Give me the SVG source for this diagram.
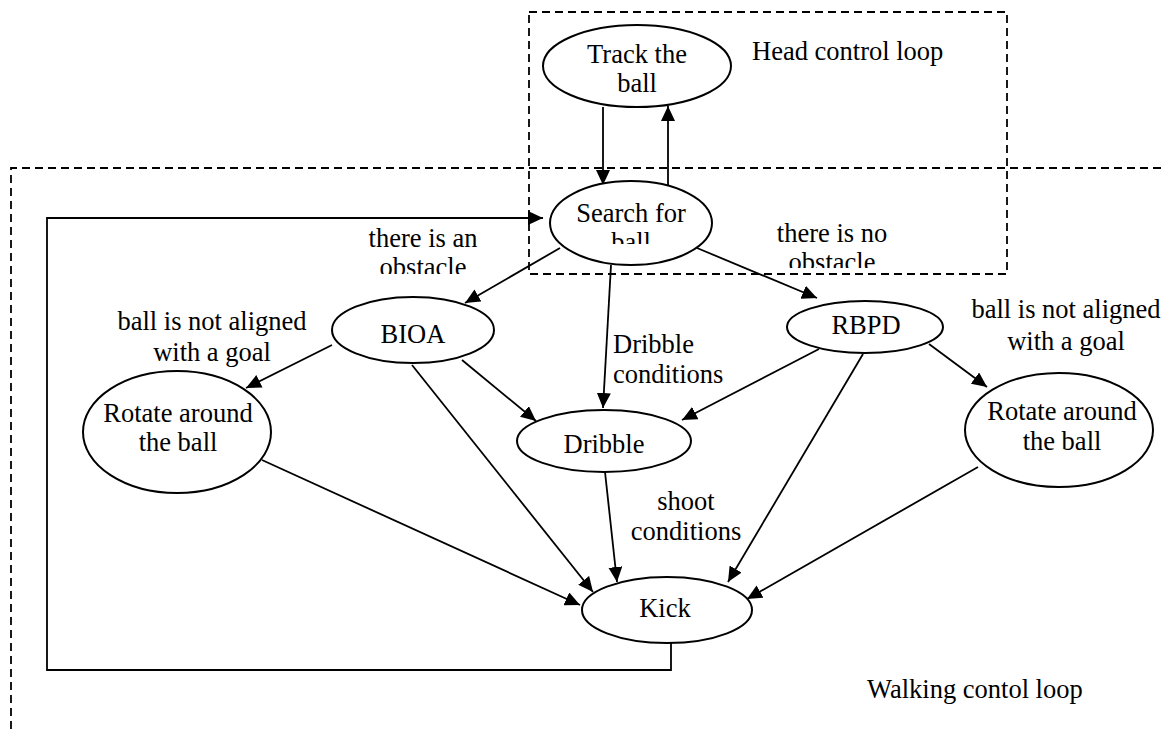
<svg xmlns="http://www.w3.org/2000/svg" width="1166" height="729" viewBox="0 0 1166 729">
<style>
text{font-family:"Liberation Serif","Times New Roman",serif;font-size:26.5px;fill:#000}
.c{text-anchor:middle}
.n{fill:#fff;stroke:#000;stroke-width:2}
.e{fill:none;stroke:#000;stroke-width:1.8}
.d{fill:none;stroke:#000;stroke-width:1.8;stroke-dasharray:8 5}
</style>
<defs>
<marker id="ah" markerUnits="userSpaceOnUse" markerWidth="16" markerHeight="14" refX="15" refY="7" orient="auto">
<path d="M0,0 L15,7 L0,14 z" fill="#000"/>
</marker>
<clipPath id="cs"><rect x="540" y="190" width="180" height="54"/></clipPath>
<clipPath id="ca"><rect x="340" y="220" width="180" height="54"/></clipPath>
<clipPath id="cn"><rect x="750" y="215" width="180" height="53"/></clipPath>
</defs>
<g id="loops">
<rect class="d" x="529" y="12" width="478" height="262"/>
<path class="d" d="M11,729 V168 H1166"/>
<text x="752" y="60">Head control loop</text>
<text x="867" y="698">Walking contol loop</text>
</g>
<g id="connectors">
<line class="e" x1="603" y1="107" x2="603" y2="185" marker-end="url(#ah)"/>
<line class="e" x1="668" y1="185" x2="668" y2="106" marker-end="url(#ah)"/>
<polyline class="e" points="671,643 671,670 47,670 47,218 543,218" marker-end="url(#ah)"/>
<line class="e" x1="560" y1="248" x2="465" y2="303" marker-end="url(#ah)"/>
<line class="e" x1="611" y1="265" x2="603" y2="408" marker-end="url(#ah)"/>
<line class="e" x1="697" y1="248" x2="817" y2="298" marker-end="url(#ah)"/>
<line class="e" x1="332" y1="345" x2="246" y2="388" marker-end="url(#ah)"/>
<line class="e" x1="462" y1="360" x2="536" y2="421" marker-end="url(#ah)"/>
<line class="e" x1="412" y1="365" x2="593" y2="592" marker-end="url(#ah)"/>
<line class="e" x1="262" y1="460" x2="580" y2="605" marker-end="url(#ah)"/>
<line class="e" x1="819" y1="349" x2="682" y2="420" marker-end="url(#ah)"/>
<line class="e" x1="863" y1="354" x2="728" y2="582" marker-end="url(#ah)"/>
<line class="e" x1="929" y1="344" x2="987" y2="387" marker-end="url(#ah)"/>
<line class="e" x1="978" y1="467" x2="747" y2="599" marker-end="url(#ah)"/>
<line class="e" x1="605" y1="472" x2="617" y2="582" marker-end="url(#ah)"/>
<g clip-path="url(#ca)"><text class="c" x="423" y="247">there is an</text><text class="c" x="423" y="276">obstacle</text></g>
<g clip-path="url(#cn)"><text class="c" x="832" y="242">there is no</text><text class="c" x="832" y="271">obstacle</text></g>
<text class="c" x="212" y="330">ball is not aligned</text>
<text class="c" x="212" y="361">with a goal</text>
<text class="c" x="1066" y="318">ball is not aligned</text>
<text class="c" x="1066" y="350">with a goal</text>
<text x="613" y="353">Dribble</text>
<text x="613" y="383">conditions</text>
<text class="c" x="686" y="510">shoot</text>
<text class="c" x="686" y="540">conditions</text>
</g>
<g id="track">
<ellipse class="n" cx="637" cy="66" rx="94" ry="41"/>
<text class="c" x="637" y="63">Track the</text>
<text class="c" x="637" y="92">ball</text>
</g>
<g id="search">
<ellipse class="n" cx="631" cy="223" rx="81" ry="42"/>
<g clip-path="url(#cs)"><text class="c" x="631" y="222">Search for</text><text class="c" x="631" y="251">ball</text></g>
</g>
<g id="bioa">
<ellipse class="n" cx="413" cy="330" rx="81" ry="33"/>
<text class="c" x="413" y="343">BIOA</text>
</g>
<g id="rbpd">
<ellipse class="n" cx="865" cy="327" rx="78" ry="26"/>
<text class="c" x="866" y="334">RBPD</text>
</g>
<g id="rotate-left">
<ellipse class="n" cx="177" cy="432" rx="94" ry="61"/>
<text class="c" x="178" y="422">Rotate around</text>
<text class="c" x="178" y="451">the ball</text>
</g>
<g id="rotate-right">
<ellipse class="n" cx="1059" cy="430" rx="94" ry="57"/>
<text class="c" x="1062" y="420">Rotate around</text>
<text class="c" x="1062" y="450">the ball</text>
</g>
<g id="dribble">
<ellipse class="n" cx="604" cy="441" rx="87" ry="31"/>
<text class="c" x="604" y="453">Dribble</text>
</g>
<g id="kick">
<ellipse class="n" cx="667" cy="610" rx="85" ry="33"/>
<text class="c" x="665" y="617">Kick</text>
</g>
</svg>
